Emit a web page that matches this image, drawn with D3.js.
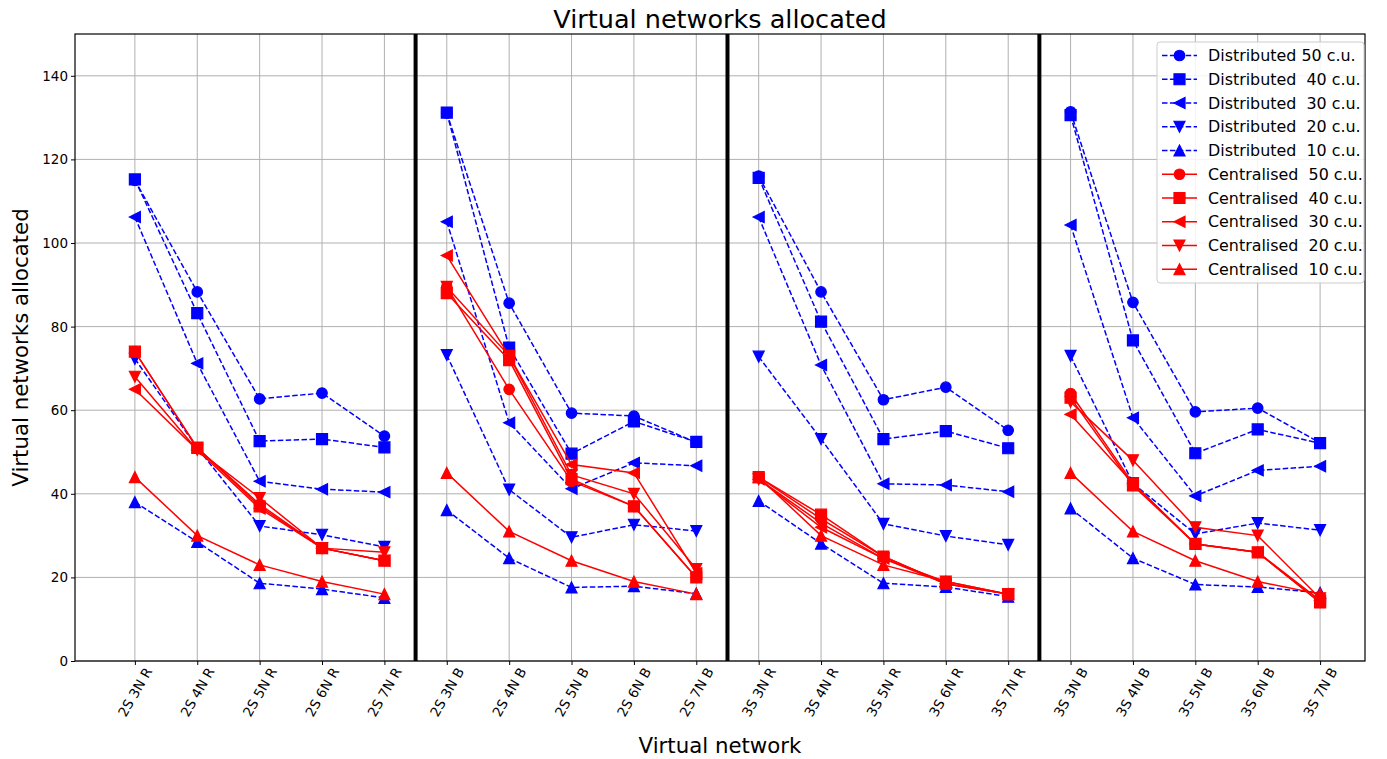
<!DOCTYPE html>
<html>
<head>
<meta charset="utf-8">
<script src="https://cdn.jsdelivr.net/npm/d3@7"></script>
<style>
  body { margin: 0; background: #fff; }
  svg { font-family: "DejaVu Sans", sans-serif; }
  text { white-space: pre; }
</style>
</head>
<body>
<svg id="chart" width="1387" height="759"></svg>
<script>
const categories = ["2S 3N R","2S 4N R","2S 5N R","2S 6N R","2S 7N R",
  "2S 3N B","2S 4N B","2S 5N B","2S 6N B","2S 7N B",
  "3S 3N R","3S 4N R","3S 5N R","3S 6N R","3S 7N R",
  "3S 3N B","3S 4N B","3S 5N B","3S 6N B","3S 7N B"];
const yTicks = [0, 20, 40, 60, 80, 100, 120, 140];
const separators = [4.5, 9.5, 14.5];
const groupSize = 5;

const distributed50 = [115, 88.3, 62.7, 64.1, 53.8, 131.1, 85.6, 59.3, 58.6, 52.3, 116, 88.3, 62.5, 65.5, 55.2, 131.4, 85.8, 59.6, 60.5, 52.2];
const distributed40 = [115.2, 83.2, 52.6, 53.1, 51.1, 131.2, 75, 49.6, 57.3, 52.4, 115.6, 81.2, 53.1, 55, 50.9, 130.6, 76.7, 49.7, 55.4, 52.1];
const distributed30 = [106.2, 71.2, 43, 41.1, 40.4, 105.1, 57, 41.2, 47.4, 46.7, 106.2, 70.8, 42.4, 42.1, 40.5, 104.3, 58.2, 39.5, 45.6, 46.6];
const distributed20 = [72.3, 51, 32.3, 30.2, 27.3, 73.2, 41, 29.6, 32.6, 31.1, 72.8, 53.1, 32.8, 29.9, 27.8, 73, 42.5, 30.4, 33, 31.3];
const distributed10 = [38, 28.5, 18.6, 17.2, 15.1, 36.1, 24.6, 17.6, 17.9, 16.1, 38.3, 28.1, 18.6, 17.7, 15.4, 36.5, 24.6, 18.3, 17.7, 16.3];
const centralised50 = [74, 51, 37.5, 27, 24, 89.5, 65, 43, 37, 20, 44, 34, 25, 18.5, 16, 64, 42.5, 28, 26, 14];
const centralised40 = [74, 51, 37, 27, 24, 88, 72, 43.5, 37, 20, 44, 35, 25, 18.5, 16, 63, 42, 28, 26, 14];
const centralised30 = [65, 50.5, 36.5, 27, 24, 97, 73, 47, 45, 21, 43.5, 32, 24.5, 18.5, 16, 59, 42.5, 28, 26, 14.5];
const centralised20 = [68, 50.5, 39, 27, 26, 89.5, 73, 44.5, 40, 22, 43.5, 33, 24.5, 19, 16, 62, 48, 32, 30, 15];
const centralised10 = [44, 30, 23, 19, 16, 45, 31, 24, 19, 16, 44, 30, 23, 19, 16, 45, 31, 24, 19, 16];

const seriesLabels = ["Distributed 50 c.u.","Distributed  40 c.u.","Distributed  30 c.u.","Distributed  20 c.u.","Distributed  10 c.u.",
  "Centralised  50 c.u.","Centralised  40 c.u.","Centralised  30 c.u.","Centralised  20 c.u.","Centralised  10 c.u."];
const seriesValues = [distributed50, distributed40, distributed30, distributed20, distributed10,
  centralised50, centralised40, centralised30, centralised20, centralised10];
const markerShapes = ["circle","square","left","down","up","circle","square","left","down","up"];

const series = seriesLabels.map((label, i) => ({
  label, values: seriesValues[i], shape: markerShapes[i],
  color: i < 5 ? "#0000ff" : "#ff0000",
  dashed: i < 5
}));

const svg = d3.select("#chart");
const W = 1387, H = 759;
const m = {left: 75, right: 1365, top: 34, bottom: 661};

const x = d3.scaleLinear().domain([-0.96, 19.72]).range([m.left, m.right]);
const y = d3.scaleLinear().domain([0, 150]).range([m.bottom, m.top]);

svg.append("rect").attr("width", W).attr("height", H).attr("fill", "#fff");

// grid
const grid = svg.append("g");
grid.selectAll("line.gx").data(categories).join("line")
  .attr("x1", (d, i) => x(i)).attr("x2", (d, i) => x(i))
  .attr("y1", m.top).attr("y2", m.bottom)
  .attr("stroke", "#b0b0b0").attr("stroke-width", 1);
grid.selectAll("line.gy").data(yTicks).join("line")
  .attr("x1", m.left).attr("x2", m.right)
  .attr("y1", d => y(d)).attr("y2", d => y(d))
  .attr("stroke", "#b0b0b0").attr("stroke-width", 1);

// separators
svg.append("g").selectAll("line").data(separators).join("line")
  .attr("x1", d => x(d)).attr("x2", d => x(d))
  .attr("y1", m.top).attr("y2", m.bottom)
  .attr("stroke", "#000").attr("stroke-width", 4);

// markers
function markerPath(shape, s) {
  const h = s / 2;
  switch (shape) {
    case "square": return `M${-h},${-h}H${h}V${h}H${-h}Z`;
    case "up": return `M0,${-h}L${h},${h}L${-h},${h}Z`;
    case "down": return `M0,${h}L${h},${-h}L${-h},${-h}Z`;
    case "left": return `M${-h},0L${h},${-h}L${h},${h}Z`;
    default: return d3.arc()({innerRadius: 0, outerRadius: h, startAngle: 0, endAngle: 2 * Math.PI});
  }
}
const markerSize = {circle: 10.5, square: 11, left: 11, down: 11, up: 11};

const line = d3.line().x(d => x(d.i)).y(d => y(d.v));
const nGroups = categories.length / groupSize;
const plot = svg.append("g");
series.forEach(s => {
  const g = plot.append("g");
  const pts = s.values.map((v, i) => ({i, v}));
  for (let k = 0; k < nGroups; k++) {
    const seg = pts.slice(k * groupSize, (k + 1) * groupSize);
    g.append("path").datum(seg).attr("d", line)
      .attr("fill", "none").attr("stroke", s.color).attr("stroke-width", 1.5)
      .attr("stroke-dasharray", s.dashed ? "5.5,2.4" : null);
  }
  g.selectAll("path.m").data(pts).join("path")
    .attr("class", "m")
    .attr("transform", d => `translate(${x(d.i)},${y(d.v)})`)
    .attr("d", markerPath(s.shape, markerSize[s.shape]))
    .attr("fill", s.color).attr("stroke", s.color).attr("stroke-width", 1.2);
});

// frame
svg.append("rect").attr("x", m.left).attr("y", m.top)
  .attr("width", m.right - m.left).attr("height", m.bottom - m.top)
  .attr("fill", "none").attr("stroke", "#000").attr("stroke-width", 1.2);

// axes (tick marks from d3 axes, labels added as plain text)
const xAxis = d3.axisBottom(x).tickValues(d3.range(categories.length))
  .tickFormat("").tickSize(4).tickSizeOuter(0);
const gx = svg.append("g").attr("transform", `translate(0,${m.bottom})`).call(xAxis);
gx.select(".domain").remove();
gx.selectAll(".tick line").attr("stroke", "#000").attr("stroke-width", 1);

const yAxis = d3.axisLeft(y).tickValues(yTicks).tickFormat("").tickSize(4).tickSizeOuter(0);
const gy = svg.append("g").attr("transform", `translate(${m.left},0)`).call(yAxis);
gy.select(".domain").remove();
gy.selectAll(".tick line").attr("stroke", "#000");

const labels = svg.append("g");
labels.selectAll("text.xl").data(categories).join("text")
  .attr("class", "xl")
  .attr("transform", (d, i) => `translate(${x(i)},${m.bottom + 31}) rotate(-60)`)
  .attr("text-anchor", "middle").attr("dominant-baseline", "central")
  .style("font-size", "13.5px").attr("fill", "#000").text(d => d);
labels.selectAll("text.yl").data(yTicks).join("text")
  .attr("class", "yl")
  .attr("x", m.left - 7).attr("y", d => y(d))
  .attr("text-anchor", "end").attr("dominant-baseline", "central")
  .style("font-size", "13.5px").attr("fill", "#000").text(d => d);

// titles
svg.append("text").attr("x", (m.left + m.right) / 2).attr("y", 28)
  .attr("text-anchor", "middle").style("font-size", "25.5px").text("Virtual networks allocated");
svg.append("text").attr("x", (m.left + m.right) / 2).attr("y", 753)
  .attr("text-anchor", "middle").style("font-size", "21.3px").text("Virtual network");
svg.append("text").attr("transform", `translate(28,${(m.top + m.bottom) / 2}) rotate(-90)`)
  .attr("text-anchor", "middle").style("font-size", "21.3px").text("Virtual networks allocated");

// legend
const lg = svg.append("g");
lg.append("rect").attr("x", 1157).attr("y", 42).attr("width", 207).attr("height", 241)
  .attr("rx", 3).attr("fill", "#fff").attr("fill-opacity", 0.85)
  .attr("stroke", "#cccccc").attr("stroke-width", 1);
series.forEach((s, i) => {
  const yy = 55.5 + i * 23.75;
  lg.append("line").attr("x1", 1162).attr("x2", 1197).attr("y1", yy).attr("y2", yy)
    .attr("stroke", s.color).attr("stroke-width", 1.5)
    .attr("stroke-dasharray", s.dashed ? "5.5,2.4" : null);
  lg.append("path").attr("transform", `translate(1179.5,${yy})`)
    .attr("d", markerPath(s.shape, markerSize[s.shape]))
    .attr("fill", s.color).attr("stroke", s.color).attr("stroke-width", 1.2);
  lg.append("text").attr("x", 1208).attr("y", yy).attr("dominant-baseline", "central")
    .style("font-size", "15.9px").attr("fill", "#000").text(s.label);
});
</script>
</body>
</html>
